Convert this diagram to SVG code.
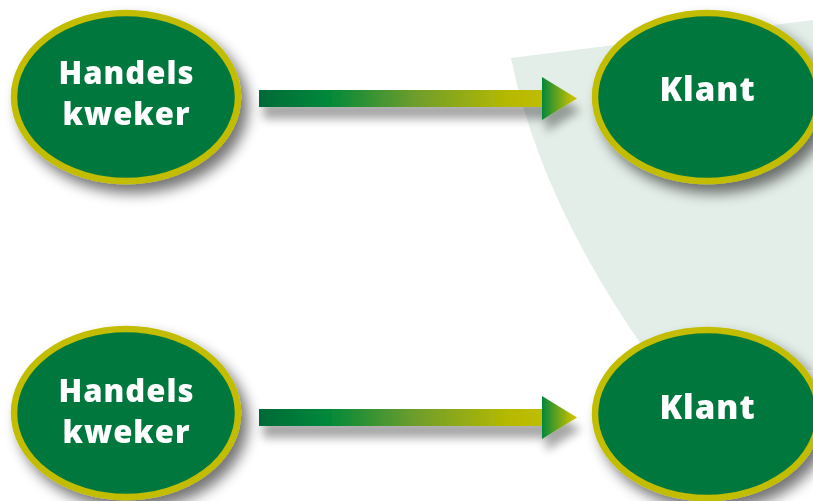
<svg xmlns="http://www.w3.org/2000/svg" width="813" height="501" viewBox="0 0 813 501">
  <defs>
    <style>
      .node { fill: #00773d; stroke: #c2bd00; stroke-width: 6.5; }
      .lbl { font-family: "Open Sans", "Liberation Sans", sans-serif; font-weight: 800; fill: #ffffff; text-anchor: middle; }
      .l1 { font-size: 31px; letter-spacing: 1px; }
      .l2 { font-size: 33px; letter-spacing: 1px; }
    </style>
    <filter id="shEll" x="-20%" y="-20%" width="150%" height="150%">
      <feGaussianBlur in="SourceAlpha" stdDeviation="7"/>
      <feOffset dx="7" dy="9" result="b"/>
      <feComponentTransfer><feFuncA type="linear" slope="0.55"/></feComponentTransfer>
      <feMerge><feMergeNode/><feMergeNode in="SourceGraphic"/></feMerge>
    </filter>
    <filter id="shArr" x="-10%" y="-80%" width="120%" height="300%">
      <feGaussianBlur in="SourceAlpha" stdDeviation="5"/>
      <feOffset dx="4" dy="12" result="b"/>
      <feComponentTransfer><feFuncA type="linear" slope="0.35"/></feComponentTransfer>
      <feMerge><feMergeNode/><feMergeNode in="SourceGraphic"/></feMerge>
    </filter>
    <linearGradient id="gShaft" gradientUnits="objectBoundingBox" x1="0" y1="0" x2="1" y2="0">
      <stop offset="0" stop-color="#006a38"/>
      <stop offset="0.24" stop-color="#00883a"/>
      <stop offset="0.55" stop-color="#6e9d2c"/>
      <stop offset="0.88" stop-color="#b6b900"/>
      <stop offset="1" stop-color="#c0bd00"/>
    </linearGradient>
    <linearGradient id="gHead" gradientUnits="objectBoundingBox" x1="0" y1="0" x2="1" y2="0">
      <stop offset="0" stop-color="#03873c"/>
      <stop offset="0.85" stop-color="#c2bf00"/>
      <stop offset="1" stop-color="#c2bf00"/>
    </linearGradient>
  </defs>

  <rect x="0" y="0" width="813" height="501" fill="#ffffff"/>
  <path d="M511,58 L813,20 L813,370 L648,368 L645,350 Q540,200 511,58 Z" fill="#e3eee8"/>

  <g id="connectors">
    <g id="arrow-top" filter="url(#shArr)">
      <rect x="259" y="90" width="284" height="17" fill="url(#gShaft)"/>
      <polygon points="542,77 577,98.5 542,120" fill="url(#gHead)"/>
    </g>
    <g id="arrow-bottom" filter="url(#shArr)">
      <rect x="259" y="409" width="284" height="17" fill="url(#gShaft)"/>
      <polygon points="542,396 577,417.5 542,439" fill="url(#gHead)"/>
    </g>
  </g>

  <g id="node-handels-top" filter="url(#shEll)">
    <ellipse class="node" cx="126" cy="97" rx="112" ry="84"/>
    <text class="lbl l1" x="126.5" y="84">Handels</text>
    <text class="lbl l1" x="126.5" y="125">kweker</text>
  </g>
  <g id="node-klant-top" filter="url(#shEll)">
    <ellipse class="node" cx="707" cy="97" rx="112" ry="84"/>
    <text class="lbl l2" x="707.5" y="101">Klant</text>
  </g>
  <g id="node-handels-bottom" filter="url(#shEll)">
    <ellipse class="node" cx="126" cy="413" rx="112" ry="84"/>
    <text class="lbl l1" x="126.5" y="402">Handels</text>
    <text class="lbl l1" x="126.5" y="443">kweker</text>
  </g>
  <g id="node-klant-bottom" filter="url(#shEll)">
    <ellipse class="node" cx="707" cy="414" rx="112" ry="84"/>
    <text class="lbl l2" x="707.5" y="419">Klant</text>
  </g>
</svg>
